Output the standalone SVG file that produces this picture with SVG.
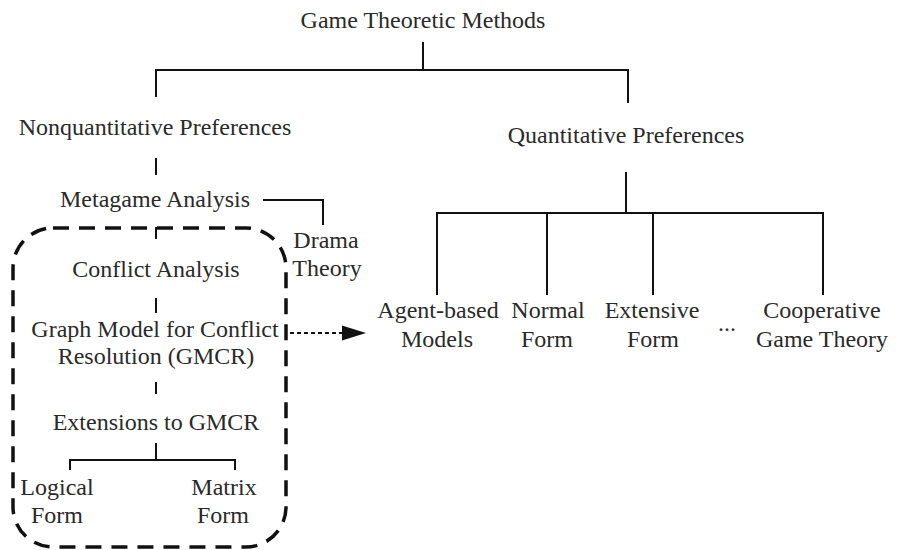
<svg xmlns="http://www.w3.org/2000/svg" width="897" height="550" viewBox="0 0 897 550">
<defs>
<style>
text{font-family:'Liberation Serif','DejaVu Serif',serif;font-size:24px;fill:#2a2a2a;text-anchor:middle}
.ln{stroke:#111;stroke-width:2;fill:none}
.box{stroke:#111;stroke-width:3.5;fill:none;stroke-dasharray:16 10}
.dot{stroke:#111;stroke-width:2;fill:none;stroke-dasharray:4 3}
</style>
</defs>
<rect width="897" height="550" fill="#fff"/>
<g id="connectors">
<path class="ln" d="M423,42 V70 M156,97 V70 H628 V103"/>
<path class="ln" d="M156,158 V175"/>
<path class="ln" d="M263,200 H323 V225"/>
<path class="ln" d="M156,227 V239"/>
<path class="ln" d="M156,298 V313"/>
<path class="ln" d="M156,382 V394"/>
<path class="ln" d="M156,443 V460 M70,470 V460 H235 V470"/>
<path class="ln" d="M626,172 V213 M437,295 V213 H823 V295 M547,213 V295 M653,213 V295"/>
<path class="dot" d="M290,333 H342"/>
<path d="M342,325.5 L366,333 L342,340.5 z" fill="#111"/>
</g>
<rect id="group-box" class="box" x="13" y="228" width="273" height="319" rx="40" ry="40"/>
<g id="n-root"><text x="423" y="28">Game Theoretic Methods</text></g>
<g id="n-nonquant"><text x="155" y="135">Nonquantitative Preferences</text></g>
<g id="n-metagame"><text x="155" y="207">Metagame Analysis</text></g>
<g id="n-drama"><text x="326" y="248">Drama</text><text x="327" y="276">Theory</text></g>
<g id="n-conflict"><text x="156" y="277">Conflict Analysis</text></g>
<g id="n-gmcr"><text x="155" y="337">Graph Model for Conflict</text><text x="156" y="364">Resolution (GMCR)</text></g>
<g id="n-ext"><text x="156" y="430">Extensions to GMCR</text></g>
<g id="n-logical"><text x="57" y="495">Logical</text><text x="57" y="523">Form</text></g>
<g id="n-matrix"><text x="224" y="495">Matrix</text><text x="223" y="523">Form</text></g>
<g id="n-quant"><text x="626" y="143">Quantitative Preferences</text></g>
<g id="n-agent"><text x="438" y="318">Agent-based</text><text x="437" y="347">Models</text></g>
<g id="n-normal"><text x="548" y="318">Normal</text><text x="547" y="347">Form</text></g>
<g id="n-extensive"><text x="652" y="318">Extensive</text><text x="653" y="347">Form</text></g>
<g id="n-dots"><text x="727" y="331">...</text></g>
<g id="n-coop"><text x="822" y="318">Cooperative</text><text x="822" y="347">Game Theory</text></g>
</svg>
